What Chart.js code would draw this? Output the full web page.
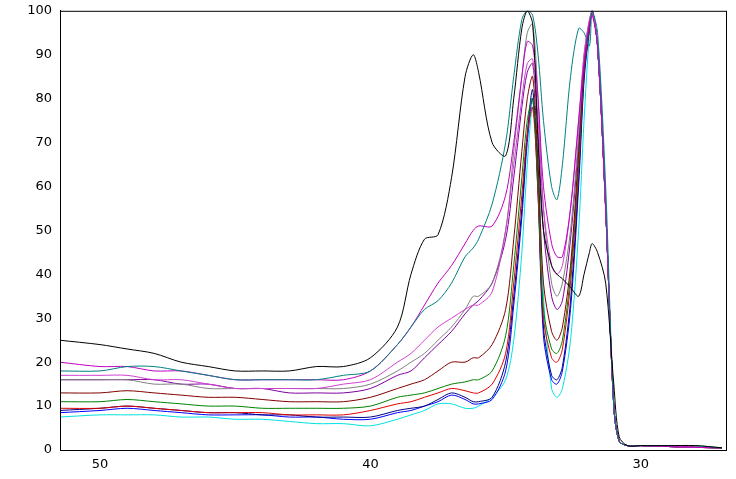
<!DOCTYPE html>
<html><head><meta charset="utf-8">
<script src="https://cdn.jsdelivr.net/npm/chart.js@4"></script>
<style>body{margin:0;background:#fff}#w{width:736px;height:479px}</style>
</head><body><div id="w"><canvas id="c"></canvas></div>
<script>
const xs=[51.5,50,49,48,47,46,45,44,43,42,41,40,39,38.5,38,37.5,37,36.5,36.2,36,35.5,35,34.7,34.4,34.2,34,33.8,33.6,33.3,33.1,32.9,32.6,32.3,32.1,31.9,31.8,31.6,31.3,31.0,30.8,30.5,30,29,28,27];
const xTicks=[50,40,30];
const tail=[92,55,10,2,1,1,0.8,0.6,0.5];
const black=[25,24,23,22,20,19,18,18,18,19,19,21,28,40,48,49,62,85,90,86,70,67,80,96,100,97,70,50,42,40,39,37,35,40,45,47,45,38,15,3,1,1,1,1,0.5];
const teal=[18,18,19,19,18,17,16,16,16,16,17,18,24,28,32,34,38,44,46,48,56,70,85,98,100,99,90,75,60,57,65,85,96,95,92,100,95,60,10,2,1,1,1,1,0.5];
const magenta=[20,19,19,18,18,17,16,16,16,16,16,18,24,28,33,38,42,47,50,51,51,58,70,85,93,92,80,60,47,44,44,55,75,88,97,99].concat(tail);
const orchid=[17,17,17,16,16,15,14,14,14,14,15,16,20,22,25,28,30,32,33,33,36,50,65,80,88,89,75,55,42,40,42,55,75,90,98,100].concat(tail);
const gray=[16,16,16,15,15,14,14,14,14,14,14,15,18,20,22,25,28,32,35,35,38,50,68,85,95,97,80,55,38,35,38,50,72,90,98,100].concat(tail);
const purple=[16,16,16,16,15,15,14,14,13,13,13,14,17,18,21,24,27,31,33,34,38,48,62,78,86,88,72,50,35,32,34,48,70,88,97,100].concat(tail);
const darkred=[13,13,13.5,13,12.5,12,12,11.5,11,11,11,12,14,15,16,18,20,20,21,21,24,32,48,68,80,85,65,38,27,25,28,42,68,88,97,100].concat(tail);
const green=[11,11,11.5,11,10.5,10,10,9.5,9.5,9.5,9.5,10,12,12.5,13,14,15,15.5,16,16,18,26,42,62,75,80,60,32,23,22,25,40,66,87,97,100].concat(tail);
const red=[9.5,9.5,10,9.5,9,8.5,8.5,8.5,8,8,8,9,10.5,11,12,13,14,13.5,13,13,15,22,38,58,72,78,58,30,21,20,23,38,64,86,96,100].concat(tail);
const navy=[9,9.5,10,9.5,9,8.5,8.5,8,8,7.5,7.5,7.5,9,9.5,10,11.5,13,12,11,11,12,20,35,55,72,82,60,28,17,16,19,34,62,85,96,100].concat(tail);
const blue=[8.5,9,9.5,9,8.5,8,8,8,7.5,7.5,7,7,8.5,9,10,11,12.5,11.5,10.5,10.5,11.5,18,33,53,70,80,58,26,16,15,18,32,60,84,96,100].concat(tail);
const cyan=[7.5,8,8,8,7.5,7.5,7,7,6.5,6,6,5.5,7,8,9,10.5,10.5,9.5,9.5,10,12,16,25,45,65,78,65,35,14,12,14,25,50,75,95,100].concat(tail);
const series=[[black,'#000000'],[teal,'#008080'],[magenta,'#c000c0'],[orchid,'#d040d0'],[gray,'#808080'],[purple,'#8000a0'],[darkred,'#800000'],[green,'#008000'],[red,'#e00000'],[navy,'#000080'],[blue,'#0000ff'],[cyan,'#00e0e0']];
const frame={id:'frame',afterDraw(c){const a=c.chartArea,g=c.ctx;g.save();g.strokeStyle='#000';g.lineWidth=1;g.strokeRect(a.left+0.5,a.top+0.5,a.right-a.left,a.bottom-a.top);g.restore();}};
new Chart(document.getElementById('c'),{type:'line',
data:{datasets:series.map(([d,c])=>({data:xs.map((x,i)=>({x,y:d[i]})),borderColor:c,borderWidth:1,pointRadius:0,tension:0.3,fill:false}))},
options:{responsive:true,maintainAspectRatio:false,animation:false,
layout:{padding:{top:10,right:10,left:0,bottom:0}},
plugins:{legend:{display:false},tooltip:{enabled:false}},
scales:{
x:{type:'linear',reverse:true,min:26.85,max:51.48,afterBuildTicks(s){s.ticks=xTicks.map(v=>({value:v}));},
afterFit(s){s.height=29;},grid:{display:false,drawTicks:true,tickLength:5,color:'#000'},border:{color:'#000'},
ticks:{color:'#000',font:{family:'DejaVu Sans',size:13},padding:2}},
y:{min:0,max:100,afterFit(s){s.width=60;},grid:{display:false,tickLength:5},border:{color:'#000'},
ticks:{stepSize:10,color:'#000',font:{family:'DejaVu Sans',size:13},padding:3}}
}},plugins:[frame]});
</script></body></html>
